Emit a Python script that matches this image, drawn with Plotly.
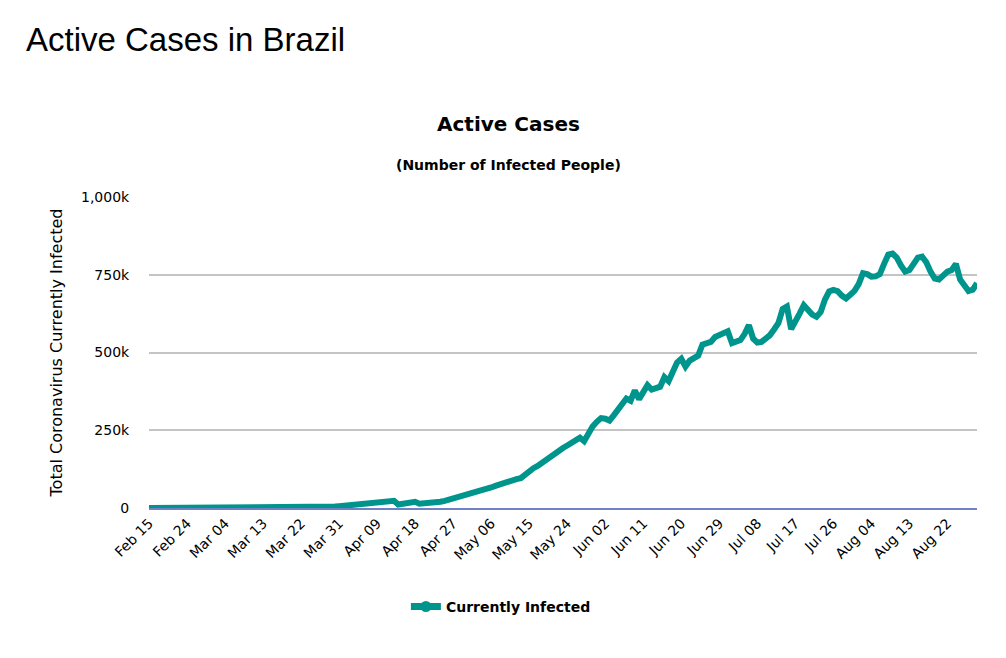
import plotly.graph_objects as go
import pandas as pd

# daily dates, Feb 15 .. Aug 29 2020
dates = pd.date_range("2020-02-15", "2020-08-29", freq="D")

currently_infected = [
    0, 0, 0, 0, 0, 0, 0, 0, 0, 0,
    0, 1, 1, 1, 2, 2, 2, 2, 4, 4,
    13, 13, 20, 25, 31, 38, 52, 151, 151, 162,
    200, 321, 372, 621, 793, 1021, 1546, 1924, 2247, 2554,
    2985, 3417, 3904, 4256, 4579, 5717, 6836, 8044, 9056, 10360,
    11130, 12056, 13717, 15927, 17857, 19638, 20727, 22192, 23000, 11000,
    12500, 15000, 17500, 20000, 14000, 14500, 15500, 17000, 18500, 20000,
    23000, 26500, 30500, 35000, 38500, 42000, 45500, 49000, 52000, 56000,
    60500, 66000, 71000, 76000, 82000, 87000, 90000, 93000, 96000, 108000,
    122000, 128000, 135000, 145000, 158000, 166000, 174000, 184000, 193000, 201000,
    209000, 218000, 226000, 215000, 240000, 262000, 277000, 289000, 287000, 281000,
    298000, 315000, 330000, 352000, 345000, 378000, 350000, 372000, 395000, 381000,
    385000, 390000, 421000, 408000, 438000, 468000, 480000, 455000, 474000, 484000,
    490000, 525000, 530000, 534000, 550000, 556000, 560000, 568000, 530000, 535000,
    540000, 560000, 588000, 545000, 532000, 534000, 545000, 556000, 575000, 595000,
    640000, 648000, 575000, 605000, 625000, 652000, 633000, 622000, 615000, 630000,
    670000, 696000, 701000, 697000, 683000, 674000, 686000, 698000, 720000, 755000,
    752000, 744000, 745000, 752000, 785000, 815000, 818000, 805000, 780000, 760000,
    765000, 782000, 805000, 808000, 790000, 760000, 738000, 735000, 748000, 760000,
    765000, 785000, 735000, 712000, 698000, 702000, 723000,
]

y_ticks = [0, 250000, 500000, 750000, 1000000]
y_tick_labels = ["0", "250k", "500k", "750k", "1,000k"]

teal = "#00958c"
chart_font = "DejaVu Sans"

fig = go.Figure()
fig.add_trace(go.Scatter(
    x=dates, y=currently_infected, mode="lines",
    line=dict(color=teal, width=6, shape="linear"),
    showlegend=False, hoverinfo="x+y",
))
# legend entry only (marker shown in legend, not on the line)
fig.add_trace(go.Scatter(
    x=[None], y=[None], mode="lines+markers", name="<b>Currently Infected</b>",
    line=dict(color=teal, width=7), marker=dict(color=teal, size=11),
))

fig.update_xaxes(
    type="date",
    range=[dates[0], dates[-1]],
    tick0=dates[0], dtick=9 * 86400000, tickformat="%b %d",
    tickangle=-45, ticks="", showgrid=False,
    showline=True, linecolor="#6f80c4", linewidth=1.5,
    tickfont=dict(family=chart_font, size=14, color="#000"),
    fixedrange=True,
)
fig.update_yaxes(
    range=[0, 1000000], tickvals=y_ticks, ticktext=y_tick_labels,
    showgrid=True, gridcolor="#c4c4c4", gridwidth=1.5, zeroline=False,
    showline=False, ticks="outside", ticklen=16, tickcolor="rgba(0,0,0,0)",
    tickfont=dict(family=chart_font, size=14, color="#000"),
    title=dict(text="Total Coronavirus Currently Infected",
               font=dict(family=chart_font, size=16, color="#000"), standoff=14),
    fixedrange=True,
)

fig.update_layout(
    width=1006, height=658,
    margin=dict(l=141, r=37, t=189, b=158),
    plot_bgcolor="white", paper_bgcolor="white",
    font=dict(family=chart_font, color="#000"),
    legend=dict(orientation="h", x=0.425, xanchor="center", y=-0.318, yanchor="middle",
                font=dict(family=chart_font, size=14, color="#000"),
                itemwidth=30),
    annotations=[
        dict(text="Active Cases in Brazil", xref="paper", yref="paper",
             x=-0.151, y=1.505, xanchor="left", yanchor="middle", showarrow=False,
             font=dict(family="Liberation Sans", size=33, color="#000")),
        dict(text="<b>Active Cases</b>", xref="paper", yref="paper",
             x=0.4338, y=1.2347, xanchor="center", yanchor="middle", showarrow=False,
             font=dict(family=chart_font, size=20, color="#000")),
        dict(text="<b>(Number of Infected People)</b>", xref="paper", yref="paper",
             x=0.4338, y=1.103, xanchor="center", yanchor="middle", showarrow=False,
             font=dict(family=chart_font, size=14, color="#000")),
    ],
)

fig.write_html("out.html")
